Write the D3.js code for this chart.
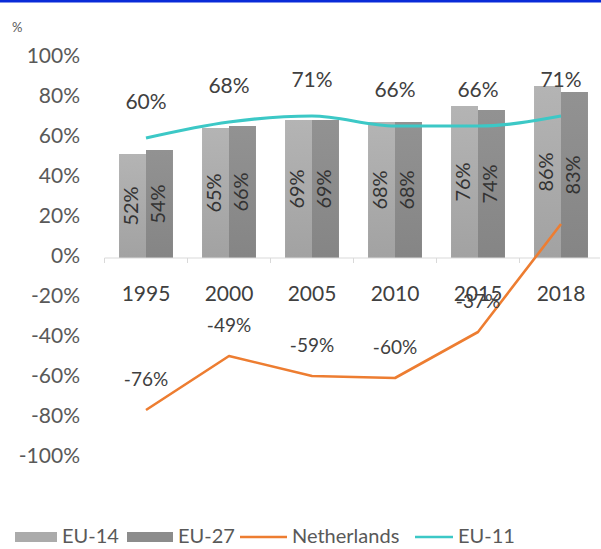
<!DOCTYPE html>
<html><head><meta charset="utf-8">
<script src="https://cdn.jsdelivr.net/npm/d3@7"></script>
<style>body{margin:0;background:#fff}svg{display:block}text{font-family:Lato,"Open Sans",sans-serif}</style>
</head><body>
<svg id="c" width="601" height="549"></svg>
<script>
const years = ["1995","2000","2005","2010","2015","2018"];
const eu14 = [52,65,69,68,76,86];
const eu27 = [54,66,69,68,74,83];
const netherlands = [-76,-49,-59,-60,-37,17];
const eu11 = [60,68,71,66,66,71];
const yTicks = [-100,-80,-60,-40,-20,0,20,40,60,80,100];
const legendLabels = ["EU-14","EU-27","Netherlands","EU-11"];

const svg = d3.select("#c");
const col14 = "#ababab", col27 = "#8c8c8c", colNL = "#ed7d31", colEU11 = "#3cc8c6";

// top blue strip
svg.append("rect").attr("x",0).attr("y",0).attr("width",601).attr("height",2.5).attr("fill","#0a2bd8");

const defs = svg.append("defs");
function grad(id,c1,c2){const g=defs.append("linearGradient").attr("id",id).attr("x1",0).attr("x2",0).attr("y1",0).attr("y2",1);
 g.append("stop").attr("offset","0%").attr("stop-color",c1);g.append("stop").attr("offset","100%").attr("stop-color",c2);}
grad("g14","#b4b4b4","#a2a2a2");grad("g27","#929292","#858585");

const x = d3.scaleBand().domain(years).range([104.5,602.5]).paddingInner(0.35).paddingOuter(0.175);
const xs = d3.scaleBand().domain(["EU-14","EU-27"]).range([0,x.bandwidth()]);
const y = d3.scaleLinear().domain([-100,100]).range([458,58]);

// y labels
svg.append("g").selectAll("text").data(yTicks).join("text")
 .attr("x",80).attr("y",d=>y(d)).attr("text-anchor","end").attr("dominant-baseline","middle")
 .attr("font-size",21).attr("fill","#595959").text(d=>d+"%");
svg.append("text").attr("x",12).attr("y",32).attr("font-size",13).attr("fill","#595959").text("%");

// bars
const series = [{key:"EU-14",vals:eu14,fill:"url(#g14)"},{key:"EU-27",vals:eu27,fill:"url(#g27)"}];
series.forEach(s=>{
 const g = svg.append("g");
 g.selectAll("rect").data(years).join("rect")
  .attr("x",(d)=>x(d)+xs(s.key)).attr("width",xs.bandwidth())
  .attr("y",(d,i)=>y(s.vals[i])).attr("height",(d,i)=>y(0)-y(s.vals[i])).attr("fill",s.fill);
 g.selectAll("text").data(years).join("text")
  .attr("transform",(d,i)=>`translate(${x(d)+xs(s.key)+xs.bandwidth()/2},${(y(0)+y(s.vals[i]))/2}) rotate(-90)`)
  .attr("text-anchor","middle").attr("dominant-baseline","middle")
  .attr("font-size",20).attr("fill","#333").text((d,i)=>s.vals[i]+"%");
});

// x axis
const ax = svg.append("g");
ax.append("line").attr("x1",104.5).attr("x2",600).attr("y1",y(0)).attr("y2",y(0)).attr("stroke","#d9d9d9");
ax.selectAll("line.t").data(d3.range(years.length)).join("line").attr("class","t")
 .attr("x1",i=>104.5+i*x.step()).attr("x2",i=>104.5+i*x.step()).attr("y1",y(0)).attr("y2",y(0)+5).attr("stroke","#d9d9d9");
ax.selectAll("text").data(years).join("text")
 .attr("x",d=>x(d)+x.bandwidth()/2).attr("y",296).attr("text-anchor","middle").attr("dominant-baseline","middle")
 .attr("font-size",21).attr("fill","#404040").text(d=>d);

const cx = d=>x(d)+x.bandwidth()/2;

// EU-11 line
svg.append("path").datum(eu11).attr("fill","none").attr("stroke",colEU11).attr("stroke-width",3.2)
 .attr("d",d3.line().x((d,i)=>cx(years[i])).y(d=>y(d)).curve(d3.curveMonotoneX));
svg.append("g").selectAll("text").data(eu11).join("text")
 .attr("x",(d,i)=>cx(years[i])).attr("y",d=>y(d)-34).attr("text-anchor","middle").attr("dominant-baseline","middle")
 .attr("font-size",21).attr("fill","#404040").text(d=>d+"%");

// Netherlands line
svg.append("path").datum(netherlands).attr("fill","none").attr("stroke",colNL).attr("stroke-width",2.6)
 .attr("stroke-linejoin","round")
 .attr("d",d3.line().x((d,i)=>cx(years[i])).y(d=>y(d)).curve(d3.curveLinear));
svg.append("g").selectAll("text").data(netherlands.slice(0,5)).join("text")
 .attr("x",(d,i)=>cx(years[i])).attr("y",d=>y(d)-29).attr("text-anchor","middle").attr("dominant-baseline","middle")
 .attr("font-size",19).attr("fill","#404040").text(d=>d+"%");

// legend
const lg = svg.append("g").attr("transform","translate(0,537)");
const items = [
 {t:legendLabels[0],type:"rect",c:col14,x:15,w:42},
 {t:legendLabels[1],type:"rect",c:col27,x:127,w:46},
 {t:legendLabels[2],type:"line",c:colNL,x:240,w:47},
 {t:legendLabels[3],type:"line",c:colEU11,x:415,w:38}];
items.forEach(it=>{
 if(it.type==="rect") lg.append("rect").attr("x",it.x).attr("y",-5).attr("width",it.w).attr("height",10).attr("fill",it.c);
 else lg.append("line").attr("x1",it.x).attr("x2",it.x+it.w).attr("y1",0).attr("y2",0).attr("stroke",it.c).attr("stroke-width",2.5);
 lg.append("text").attr("x",it.x+it.w+5).attr("y",1).attr("dominant-baseline","middle").attr("font-size",20).attr("fill","#595959").text(it.t);
});
</script>
</body></html>
